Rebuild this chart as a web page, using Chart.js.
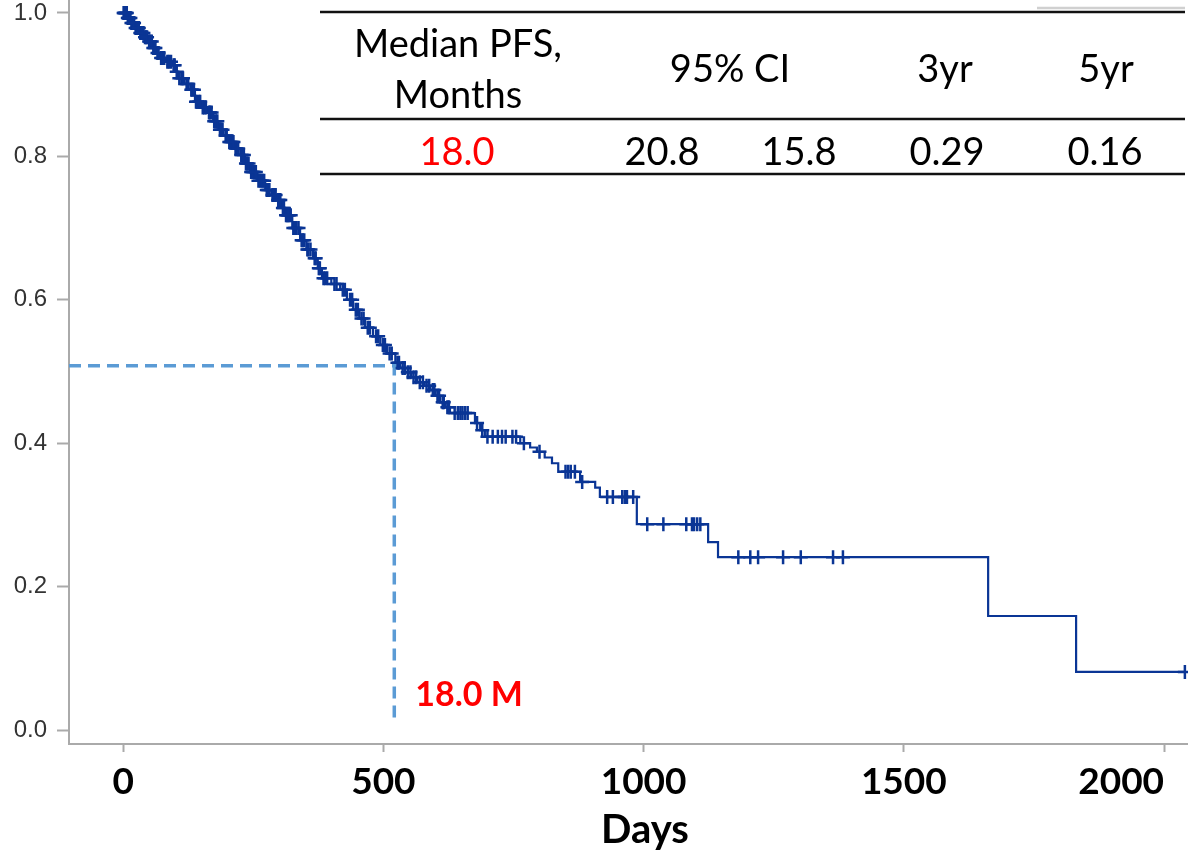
<!DOCTYPE html>
<html>
<head>
<meta charset="utf-8">
<script src="https://cdn.jsdelivr.net/npm/chart.js@4.4.1/dist/chart.umd.min.js"></script>
<style>
  html, body { margin: 0; padding: 0; background: #fff; }
  #wrap { width: 1188px; height: 853px; position: relative; }
</style>
</head>
<body>
<div id="wrap"><canvas id="c"></canvas></div>
<script>
// ---------- data ----------
const kmDays = [0,8,15,23,32,40,48,57,64,71,82,94,100,106,118,129,138,150,163,173,183,193,202,214,225,234,244,258,273,285,296,304,311,325,340,352,365,374,382,400,417,430,442,454,465,480,494,507,523,532,542,554,565,578,590,600,609,619,628,676,686,695,763,782,795,810,824,836,878,907,916,987,1124,1143,1662,1831,2040];
const kmSurv = [1.000,0.993,0.986,0.979,0.972,0.966,0.960,0.951,0.944,0.937,0.932,0.927,0.918,0.909,0.901,0.893,0.876,0.868,0.861,0.849,0.837,0.829,0.820,0.811,0.802,0.790,0.778,0.766,0.753,0.746,0.739,0.728,0.718,0.700,0.683,0.670,0.658,0.644,0.630,0.622,0.614,0.600,0.586,0.574,0.561,0.549,0.537,0.525,0.512,0.505,0.499,0.492,0.485,0.480,0.474,0.466,0.457,0.450,0.442,0.428,0.418,0.409,0.400,0.394,0.388,0.380,0.372,0.360,0.346,0.338,0.325,0.287,0.262,0.241,0.159,0.081,0.081];
const censorDays = [1,2,3,4,5,6,7,9,10,11,12,14,16,18,20,21,24,26,27,29,30,33,35,37,39,42,44,46,50,52,55,58,60,62,66,68,73,75,79,85,88,92,97,99,103,108,112,115,122,125,131,133,136,140,142,146,148,153,156,159,165,167,170,175,178,181,186,188,191,197,199,204,206,208,210,212,216,218,221,227,229,232,236,238,241,246,248,250,252,255,260,263,266,268,271,276,278,281,287,290,293,298,300,302,307,309,313,315,317,319,322,327,330,333,337,343,345,348,354,356,360,368,370,376,378,385,388,392,406,410,422,426,436,440,447,451,458,462,470,474,486,490,499,503,512,516,527,530,537,541,547,552,558,563,570,576,583,588,595,598,604,607,614,616,623,626,637,643,648,652,657,662,680,690,700,710,720,728,735,748,755,770,800,850,855,860,868,882,930,941,959,964,968,980,1007,1038,1082,1093,1097,1103,1109,1182,1205,1220,1268,1302,1364,1383,2040];
const medianDays = 521;
const medianSurv = 0.508;
const medianLineBottom = 0.008;
const xTicks = [0, 500, 1000, 1500, 2000];
const xTickLabels = ['0', '500', '1000', '1500', '2000'];
const yTicks = [0, 0.2, 0.4, 0.6, 0.8, 1.0];
const yTickLabels = ['0.0', '0.2', '0.4', '0.6', '0.8', '1.0'];
const xMin = -104, xMax = 2046, yMin = -0.0195, yMax = 1.018;
const tableHeaders = [['Median PFS,', 'Months'], ['95% CI'], ['3yr'], ['5yr']];
const tableValues = ['18.0', '20.8', '15.8', '0.29', '0.16'];
const medianLabel = '18.0 M';
const xTitle = 'Days';

// ---------- helpers ----------
function survAt(t) {
  let s = kmSurv[0];
  for (let i = 0; i < kmDays.length; i++) { if (kmDays[i] <= t) s = kmSurv[i]; }
  return s;
}
const kmPoints = kmDays.map((d, i) => ({x: d, y: kmSurv[i]}));
const censorPoints = censorDays.map(d => ({x: d, y: survAt(d)}));
const medianPoints = [{x: xMin, y: medianSurv}, {x: medianDays, y: medianSurv}, {x: medianDays, y: medianLineBottom}];

const BLUE = '#0a3595';
const TXT = 'Lato, "Open Sans", sans-serif';

const overlay = {
  id: 'overlay',
  afterDraw(chart) {
    const ctx = chart.ctx;
    ctx.save();
    // table rules
    ctx.strokeStyle = '#111';
    ctx.lineWidth = 2.5;
    [12, 119, 174].forEach(y => {
      ctx.beginPath(); ctx.moveTo(320, y); ctx.lineTo(1185, y); ctx.stroke();
    });
    ctx.strokeStyle = '#d0d0d0';
    ctx.lineWidth = 2.5;
    ctx.beginPath(); ctx.moveTo(1037, 8); ctx.lineTo(1185, 8); ctx.stroke();
    // table text
    ctx.font = '38px ' + TXT;
    ctx.textAlign = 'center';
    ctx.textBaseline = 'alphabetic';
    ctx.fillStyle = '#000';
    const hx = [458, 730, 945, 1106];
    ctx.fillText(tableHeaders[0][0], hx[0], 57);
    ctx.fillText(tableHeaders[0][1], hx[0], 108);
    ctx.fillText(tableHeaders[1][0], hx[1], 82);
    ctx.fillText(tableHeaders[2][0], hx[2], 82);
    ctx.fillText(tableHeaders[3][0], hx[3], 82);
    const vx = [457, 662, 799, 947, 1105];
    tableValues.forEach((v, i) => {
      ctx.fillStyle = i === 0 ? '#ff0000' : '#000';
      ctx.fillText(v, vx[i], 165);
    });
    // median label
    const xs = chart.scales.x, ys = chart.scales.y;
    ctx.font = 'bold 34px ' + TXT;
    ctx.fillStyle = '#ff0000';
    ctx.textAlign = 'left';
    ctx.fillText(medianLabel, xs.getPixelForValue(medianDays) + 21, ys.getPixelForValue(0.034));
    // x axis title
    ctx.font = 'bold 40px ' + TXT;
    ctx.fillStyle = '#000';
    ctx.textAlign = 'center';
    ctx.textBaseline = 'middle';
    ctx.fillText(xTitle, 645, 830);
    ctx.restore();
  }
};

new Chart(document.getElementById('c'), {
  type: 'scatter',
  data: {
    datasets: [
      {
        data: censorPoints, showLine: false, pointStyle: 'cross', pointRadius: 7,
        borderColor: BLUE, backgroundColor: BLUE, pointBorderWidth: 2.5, order: 0
      },
      {
        data: kmPoints, showLine: true, stepped: 'before', borderColor: BLUE,
        borderWidth: 2.2, pointRadius: 0, fill: false, order: 1
      },
      {
        data: medianPoints, showLine: true, borderColor: '#5b9bd5', borderWidth: 3.5,
        borderDash: [12, 7], pointRadius: 0, fill: false, order: 2
      }
    ]
  },
  options: {
    responsive: true,
    maintainAspectRatio: false,
    animation: false,
    layout: { padding: 0, autoPadding: false },
    plugins: { legend: { display: false }, tooltip: { enabled: false } },
    scales: {
      x: {
        type: 'linear', min: xMin, max: xMax,
        afterBuildTicks: s => { s.ticks = [{value: xMin}].concat(xTicks.map(v => ({value: v}))); },
        afterFit: s => { s.height = 109; s.paddingLeft = 0; s.paddingRight = 0; },
        ticks: {
          align: 'inner', autoSkip: false, maxRotation: 0, padding: 8, color: '#000',
          font: { family: TXT, weight: 'bold', size: 37 },
          callback: (v, i) => (i === 0 ? '' : xTickLabels[i - 1])
        },
        grid: {
          drawOnChartArea: false, drawTicks: true, tickLength: 8, tickWidth: 2,
          tickColor: c => (c.tick && c.tick.value === xMin ? 'rgba(0,0,0,0)' : '#aaaaaa')
        },
        border: { color: '#aaaaaa', width: 2 },
        title: { display: false, text: xTitle }
      },
      y: {
        type: 'linear', min: yMin, max: yMax,
        afterBuildTicks: s => { s.ticks = yTicks.map(v => ({value: v})); },
        afterFit: s => { s.width = 69; s.paddingTop = 0; s.paddingBottom = 0; },
        ticks: {
          padding: 10, color: '#333',
          font: { family: '"Liberation Sans", Arial, sans-serif', size: 24 },
          callback: (v, i) => yTickLabels[i]
        },
        grid: { drawOnChartArea: false, drawTicks: true, tickLength: 12, tickWidth: 2, tickColor: '#aaaaaa' },
        border: { color: '#aaaaaa', width: 2 }
      }
    }
  },
  plugins: [overlay]
});
</script>
</body>
</html>
